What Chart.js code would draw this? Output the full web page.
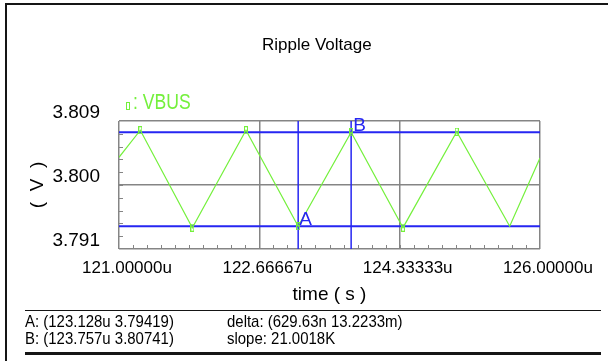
<!DOCTYPE html>
<html>
<head>
<meta charset="utf-8">
<script src="https://cdn.jsdelivr.net/npm/chart.js@4/dist/chart.umd.min.js"></script>
<style>
  html, body { margin: 0; padding: 0; background: #fff; }
  #wrap { position: relative; width: 608px; height: 361px; overflow: hidden; background: #fff;
          font-family: "Liberation Sans", Arial, sans-serif; }
  #wrap canvas { position: absolute; left: 0; top: 0; }
  .txt { position: absolute; white-space: pre; line-height: 1; color: #000; transform-origin: 0 0; }
  .narrow { transform: scaleX(0.88); }
  .rule { position: absolute; background: #151515; }
  #legendMark { position: absolute; left: 126px; top: 102px; width: 2px; height: 6px; border: 1px solid #74f03c; }
  #legend { color: #74f03c; font-size: 22px; transform: scaleX(0.8); }
</style>
</head>
<body>
<div id="wrap">
  <canvas id="chart" width="608" height="361"></canvas>
  <div class="rule" style="left:5px;top:3px;width:2px;height:358px"></div>
  <div class="rule" style="left:5px;top:3px;width:603px;height:2px"></div>
  <div class="rule" style="left:25px;top:309.5px;width:576px;height:1.5px"></div>
  <div class="rule" style="left:25px;top:352px;width:576px;height:3px"></div>
  <div class="txt" id="title" style="left:262px;top:36px;font-size:17px">Ripple Voltage</div>
  <div id="legendMark"></div>
  <div class="txt" id="legend" style="left:133px;top:91px">: VBUS</div>
  <div class="txt narrow" id="readA" style="left:25px;top:313px;font-size:17px"></div>
  <div class="txt narrow" id="readB" style="left:25px;top:330px;font-size:17px"></div>
  <div class="txt narrow" id="readDelta" style="left:227px;top:313px;font-size:17px"></div>
  <div class="txt narrow" id="readSlope" style="left:227px;top:330px;font-size:17px"></div>
</div>
<script>
// VBUS ripple waveform (time in microseconds, voltage in volts)
const vbusTime = [121.0, 121.253, 121.871, 122.508, 123.128, 123.757, 124.373, 125.011, 125.64, 126.0];
const vbusVolt = [3.8039, 3.8077, 3.7940, 3.8077, 3.79419, 3.80741, 3.7940, 3.8075, 3.7942, 3.8038];
// symbol markers drawn on these samples
const vbusMarked = [false, true, true, true, true, true, true, true, false, false];

// Cursor A and B readouts
const cursorNames = ['A', 'B'];
const cursorTime = [123.128, 123.757];
const cursorVolt = [3.79419, 3.80741];
const deltaText = 'delta: (629.63n 13.2233m)';
const slopeText = 'slope: 21.0018K';

// Axis ranges and tick labels
const xRange = [121, 126];
const xTicks = [121, 122.66667, 124.33333, 126];
const xTickLabels = ['121.00000u', '122.66667u', '124.33333u', '126.00000u'];
const yRange = [3.791, 3.809];
const yTicks = [3.791, 3.800, 3.809];
const yTickLabels = ['3.791', '3.800', '3.809'];
const xMinorDivisions = 30;
const yMinorDivisions = 10;

const GREEN = '#74f03c';
const BLUE = '#2626f2';
const GRID = '#858585';
const FONT = '"Liberation Sans", Arial, sans-serif';

document.getElementById('readA').textContent =
  `${cursorNames[0]}: (${cursorTime[0].toFixed(3)}u ${cursorVolt[0].toFixed(5)})`;
document.getElementById('readB').textContent =
  `${cursorNames[1]}: (${cursorTime[1].toFixed(3)}u ${cursorVolt[1].toFixed(5)})`;
document.getElementById('readDelta').textContent = deltaText;
document.getElementById('readSlope').textContent = slopeText;

// small hollow rectangle used as the trace symbol
const marker = document.createElement('canvas');
marker.width = 4; marker.height = 8;
{
  const m = marker.getContext('2d');
  m.strokeStyle = GREEN; m.lineWidth = 1;
  m.strokeRect(0.5, 0.5, 3, 7);
}

const vbusPoints = vbusTime.map((t, i) => ({ x: t, y: vbusVolt[i] }));
const hLine = v => [{ x: xRange[0], y: v }, { x: xRange[1], y: v }];
const vLine = t => [{ x: t, y: yRange[0] }, { x: t, y: yRange[1] }];

// short inward tick marks along the bottom and left edges of the plot
const minorTicks = {
  id: 'minorTicks',
  beforeDatasetsDraw(chart) {
    const { ctx, chartArea: a, scales: { x, y } } = chart;
    ctx.save();
    ctx.strokeStyle = GRID; ctx.lineWidth = 1;
    ctx.beginPath();
    for (let i = 1; i < xMinorDivisions; i++) {
      const px = Math.round(x.getPixelForValue(xRange[0] + (xRange[1] - xRange[0]) * i / xMinorDivisions)) + 0.5;
      ctx.moveTo(px, a.bottom); ctx.lineTo(px, a.bottom - 4);
    }
    for (let i = 1; i < yMinorDivisions; i++) {
      const py = Math.round(y.getPixelForValue(yRange[0] + (yRange[1] - yRange[0]) * i / yMinorDivisions)) + 0.5;
      ctx.moveTo(a.left, py); ctx.lineTo(a.left + 4, py);
    }
    ctx.stroke();
    ctx.restore();
  }
};

// cursor letters next to the cursor crossings
const cursorLabels = {
  id: 'cursorLabels',
  afterDatasetsDraw(chart) {
    const { ctx, scales: { x, y } } = chart;
    ctx.save();
    ctx.fillStyle = BLUE;
    ctx.font = '19px ' + FONT;
    ctx.textAlign = 'left';
    ctx.textBaseline = 'alphabetic';
    ctx.fillText(cursorNames[0], x.getPixelForValue(cursorTime[0]) + 1, y.getPixelForValue(cursorVolt[0]) - 1);
    ctx.fillText(cursorNames[1], x.getPixelForValue(cursorTime[1]) + 2, y.getPixelForValue(cursorVolt[1]) - 1);
    ctx.restore();
  }
};

const cursorStyle = { borderColor: BLUE, pointRadius: 0, fill: false, tension: 0, order: 2 };

new Chart(document.getElementById('chart'), {
  type: 'line',
  data: {
    datasets: [
      {
        label: 'VBUS',
        data: vbusPoints,
        borderColor: GREEN,
        borderWidth: 1.2,
        tension: 0,
        fill: false,
        pointStyle: marker,
        pointRadius: vbusMarked.map(m => (m ? 3 : 0)),
        order: 1
      },
      Object.assign({ label: 'A level', data: hLine(cursorVolt[0]), borderWidth: 2 }, cursorStyle),
      Object.assign({ label: 'B level', data: hLine(cursorVolt[1]), borderWidth: 2 }, cursorStyle),
      Object.assign({ label: 'A time', data: vLine(cursorTime[0]), borderWidth: 1.5 }, cursorStyle),
      Object.assign({ label: 'B time', data: vLine(cursorTime[1]), borderWidth: 1.5 }, cursorStyle)
    ]
  },
  options: {
    responsive: false,
    animation: false,
    events: [],
    layout: { padding: { left: 0, right: 68, top: 121, bottom: 52 } },
    plugins: { legend: { display: false }, title: { display: false }, tooltip: { enabled: false } },
    scales: {
      x: {
        type: 'linear',
        min: xRange[0], max: xRange[1],
        afterBuildTicks: s => { s.ticks = xTicks.map(v => ({ value: v })); },
        afterFit: s => { s.height = 60; },
        grid: { color: GRID, lineWidth: 1.5, drawTicks: false },
        border: { display: false },
        ticks: {
          callback: (v, i) => xTickLabels[i],
          color: '#000', padding: 9, labelOffset: 8,
          maxRotation: 0, autoSkip: false,
          font: { family: FONT, size: 17 }
        },
        title: {
          display: true, text: 'time ( s )', color: '#000',
          font: { family: FONT, size: 19, lineHeight: 1 },
          padding: { top: 0, bottom: 4.5 }
        }
      },
      y: {
        type: 'linear',
        min: yRange[0], max: yRange[1],
        afterBuildTicks: s => { s.ticks = yTicks.map(v => ({ value: v })); },
        afterFit: s => { s.width = 119; },
        grid: { color: GRID, lineWidth: 1.5, drawTicks: false },
        border: { display: false },
        ticks: {
          callback: (v, i) => yTickLabels[i],
          color: '#000', padding: 19, labelOffset: -8,
          font: { family: FONT, size: 19 }
        },
        title: {
          display: true, text: '(  V  )', color: '#000',
          font: { family: FONT, size: 19, lineHeight: 1 },
          padding: { top: 28.5, bottom: 0 }
        }
      }
    }
  },
  plugins: [minorTicks, cursorLabels]
});
</script>
</body>
</html>
